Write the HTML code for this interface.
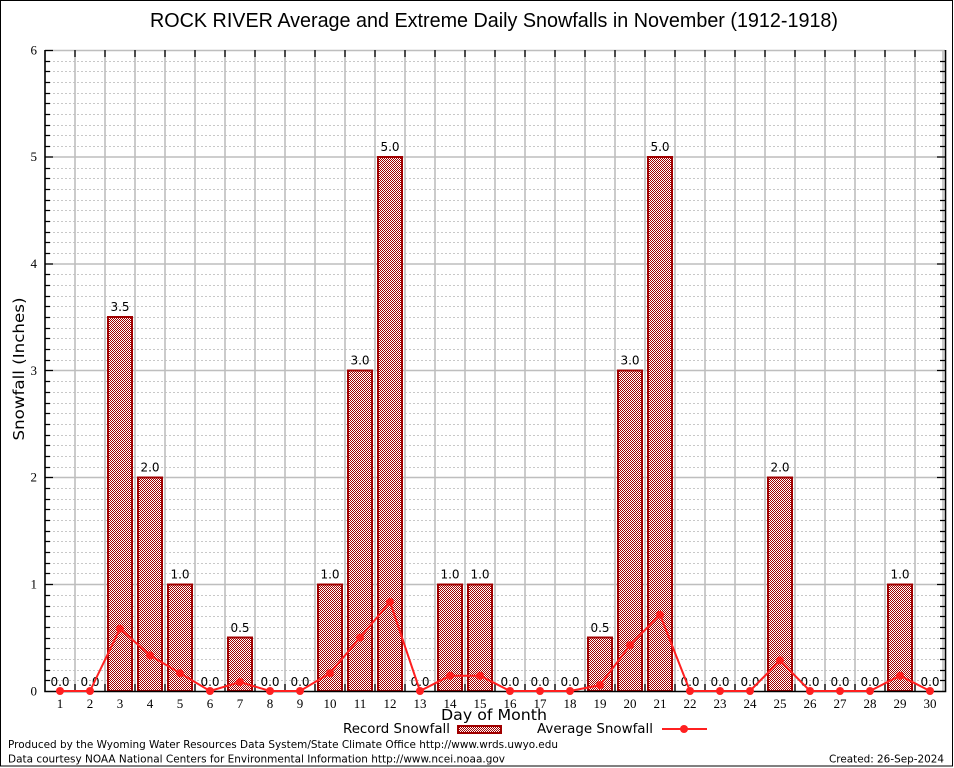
<!DOCTYPE html>
<html>
<head>
<meta charset="utf-8">
<style>
  html,body{margin:0;padding:0;background:#fff;}
  svg{display:block;}
  .sans{font-family:"DejaVu Sans","Liberation Sans",sans-serif;}
  .serif{font-family:"Liberation Serif","DejaVu Serif",serif;}
</style>
</head>
<body>
<svg width="954" height="768" viewBox="0 0 954 768" xmlns="http://www.w3.org/2000/svg">
  <defs>
    <pattern id="chk" x="0" y="0" width="2" height="2" patternUnits="userSpaceOnUse">
      <rect x="0" y="0" width="2" height="2" fill="#ffffff"/>
      <rect x="0" y="0" width="1" height="1" fill="#a00000"/>
      <rect x="1" y="1" width="1" height="1" fill="#a00000"/>
    </pattern>
  </defs>
  <rect x="0" y="0" width="954" height="768" fill="#fff"/>
  <rect x="0.5" y="0.5" width="952" height="765.5" fill="none" stroke="#000" stroke-width="1"/>

  <!-- Title -->
  <text x="494" y="27" text-anchor="middle" style="font-family:'Liberation Sans',sans-serif" font-size="20" textLength="688" lengthAdjust="spacingAndGlyphs" fill="#000">ROCK RIVER Average and Extreme Daily Snowfalls in November (1912-1918)</text>

  <!-- Minor dashed gridlines -->
  <path fill="none" stroke="#c8c8c8" stroke-width="1" stroke-dasharray="2,2" d="
  M45 680.5H945M45 670.5H945M45 659.5H945M45 648.5H945M45 638.5H945M45 627.5H945M45 616.5H945M45 606.5H945M45 595.5H945
  M45 573.5H945M45 563.5H945M45 552.5H945M45 541.5H945M45 531.5H945M45 520.5H945M45 509.5H945M45 499.5H945M45 488.5H945
  M45 467.5H945M45 456.5H945M45 445.5H945M45 435.5H945M45 424.5H945M45 413.5H945M45 403.5H945M45 392.5H945M45 381.5H945
  M45 360.5H945M45 349.5H945M45 338.5H945M45 328.5H945M45 317.5H945M45 306.5H945M45 296.5H945M45 285.5H945M45 274.5H945
  M45 253.5H945M45 242.5H945M45 232.5H945M45 221.5H945M45 210.5H945M45 200.5H945M45 189.5H945M45 178.5H945M45 168.5H945
  M45 146.5H945M45 135.5H945M45 125.5H945M45 114.5H945M45 103.5H945M45 93.5H945M45 82.5H945M45 71.5H945M45 61.5H945"/>

  <!-- Major horizontal gridlines -->
  <path fill="none" stroke="#bebebe" stroke-width="1.6" d="M45 584.5H945M45 477.5H945M45 370.5H945M45 264H945M45 157H945M45 50.5H945"/>

  <!-- Vertical gridlines -->
  <path fill="none" stroke="#bebebe" stroke-width="1.6" d="
  M75 50V691M105 50V691M135 50V691M165 50V691M195 50V691M225 50V691M255 50V691M285 50V691M315 50V691
  M345 50V691M375 50V691M405 50V691M435 50V691M465 50V691M495 50V691M525 50V691M555 50V691M585 50V691
  M615 50V691M645 50V691M675 50V691M705 50V691M735 50V691M765 50V691M795 50V691M825 50V691M855 50V691
  M885 50V691M915 50V691M943 50V691"/>

  <!-- Top & bottom black ticks -->
  <path fill="none" stroke="#000" stroke-width="1.3" d="
  M75 50V57M105 50V57M135 50V57M165 50V57M195 50V57M225 50V57M255 50V57M285 50V57M315 50V57
  M345 50V57M375 50V57M405 50V57M435 50V57M465 50V57M495 50V57M525 50V57M555 50V57M585 50V57
  M615 50V57M645 50V57M675 50V57M705 50V57M735 50V57M765 50V57M795 50V57M825 50V57M855 50V57
  M885 50V57M915 50V57
  M75 691V684M105 691V684M135 691V684M165 691V684M195 691V684M225 691V684M255 691V684M285 691V684M315 691V684
  M345 691V684M375 691V684M405 691V684M435 691V684M465 691V684M495 691V684M525 691V684M555 691V684M585 691V684
  M615 691V684M645 691V684M675 691V684M705 691V684M735 691V684M765 691V684M795 691V684M825 691V684M855 691V684
  M885 691V684M915 691V684"/>

  <!-- Bars -->
  <g fill="url(#chk)" stroke="#a00000" stroke-width="2">
    <rect x="108" y="317" width="24" height="374"/>
    <rect x="138" y="477.5" width="24" height="213.5"/>
    <rect x="168" y="584.5" width="24" height="106.5"/>
    <rect x="228" y="637.5" width="24" height="53.5"/>
    <rect x="318" y="584.5" width="24" height="106.5"/>
    <rect x="348" y="370.5" width="24" height="320.5"/>
    <rect x="378" y="157" width="24" height="534"/>
    <rect x="438" y="584.5" width="24" height="106.5"/>
    <rect x="468" y="584.5" width="24" height="106.5"/>
    <rect x="588" y="637.5" width="24" height="53.5"/>
    <rect x="618" y="370.5" width="24" height="320.5"/>
    <rect x="648" y="157" width="24" height="534"/>
    <rect x="768" y="477.5" width="24" height="213.5"/>
    <rect x="888" y="584.5" width="24" height="106.5"/>
  </g>

  <!-- Value labels -->
  <g class="sans" font-size="12" text-anchor="middle" fill="#000">
    <text x="60" y="686">0.0</text>
    <text x="90" y="686">0.0</text>
    <text x="120" y="311">3.5</text>
    <text x="150" y="471.5">2.0</text>
    <text x="180" y="578.5">1.0</text>
    <text x="210" y="686">0.0</text>
    <text x="240" y="632">0.5</text>
    <text x="270" y="686">0.0</text>
    <text x="300" y="686">0.0</text>
    <text x="330" y="578.5">1.0</text>
    <text x="360" y="364.5">3.0</text>
    <text x="390" y="151">5.0</text>
    <text x="420" y="686">0.0</text>
    <text x="450" y="578.5">1.0</text>
    <text x="480" y="578.5">1.0</text>
    <text x="510" y="686">0.0</text>
    <text x="540" y="686">0.0</text>
    <text x="570" y="686">0.0</text>
    <text x="600" y="632">0.5</text>
    <text x="630" y="364.5">3.0</text>
    <text x="660" y="151">5.0</text>
    <text x="690" y="686">0.0</text>
    <text x="720" y="686">0.0</text>
    <text x="750" y="686">0.0</text>
    <text x="780" y="471.5">2.0</text>
    <text x="810" y="686">0.0</text>
    <text x="840" y="686">0.0</text>
    <text x="870" y="686">0.0</text>
    <text x="900" y="578.5">1.0</text>
    <text x="930" y="686">0.0</text>
  </g>

  <!-- Axes -->
  <path fill="none" stroke="#000" stroke-width="1.6" d="M45 50V691.5H945.5V50"/>
  <path fill="none" stroke="#000" stroke-width="1.3" d="
  M45 584.5h8M45 477.5h8M45 370.5h8M45 264h8M45 157h8M45 50.5h8
  M937 584.5h8M937 477.5h8M937 370.5h8M937 264h8M937 157h8
  M45 680.5h5M45 670.5h5M45 659.5h5M45 648.5h5M45 638.5h5M45 627.5h5M45 616.5h5M45 606.5h5M45 595.5h5
  M45 573.5h5M45 563.5h5M45 552.5h5M45 541.5h5M45 531.5h5M45 520.5h5M45 509.5h5M45 499.5h5M45 488.5h5
  M45 467.5h5M45 456.5h5M45 445.5h5M45 435.5h5M45 424.5h5M45 413.5h5M45 403.5h5M45 392.5h5M45 381.5h5
  M45 360.5h5M45 349.5h5M45 338.5h5M45 328.5h5M45 317.5h5M45 306.5h5M45 296.5h5M45 285.5h5M45 274.5h5
  M45 253.5h5M45 242.5h5M45 232.5h5M45 221.5h5M45 210.5h5M45 200.5h5M45 189.5h5M45 178.5h5M45 168.5h5
  M45 146.5h5M45 135.5h5M45 125.5h5M45 114.5h5M45 103.5h5M45 93.5h5M45 82.5h5M45 71.5h5M45 61.5h5
  M940 680.5h5M940 670.5h5M940 659.5h5M940 648.5h5M940 638.5h5M940 627.5h5M940 616.5h5M940 606.5h5M940 595.5h5
  M940 573.5h5M940 563.5h5M940 552.5h5M940 541.5h5M940 531.5h5M940 520.5h5M940 509.5h5M940 499.5h5M940 488.5h5
  M940 467.5h5M940 456.5h5M940 445.5h5M940 435.5h5M940 424.5h5M940 413.5h5M940 403.5h5M940 392.5h5M940 381.5h5
  M940 360.5h5M940 349.5h5M940 338.5h5M940 328.5h5M940 317.5h5M940 306.5h5M940 296.5h5M940 285.5h5M940 274.5h5
  M940 253.5h5M940 242.5h5M940 232.5h5M940 221.5h5M940 210.5h5M940 200.5h5M940 189.5h5M940 178.5h5M940 168.5h5
  M940 146.5h5M940 135.5h5M940 125.5h5M940 114.5h5M940 103.5h5M940 93.5h5M940 82.5h5M940 71.5h5M940 61.5h5"/>

  <!-- Average line -->
  <polyline fill="none" stroke="#ff2020" stroke-width="2" stroke-linejoin="round" points="60,691 90,691 120,628.7 150,655.4 180,673.2 210,691 240,682.1 270,691 300,691 330,673.2 360,637.6 390,602 420,691 450,675.7 480,675.7 510,691 540,691 570,691 600,685.1 630,645.2 660,614.7 690,691 720,691 750,691 780,660.4 810,691 840,691 870,691 900,675.7 930,691"/>
  <g fill="#ff2020">
    <circle cx="60" cy="691" r="4"/><circle cx="90" cy="691" r="4"/><circle cx="120" cy="628.7" r="4"/>
    <circle cx="150" cy="655.4" r="4"/><circle cx="180" cy="673.2" r="4"/><circle cx="210" cy="691" r="4"/>
    <circle cx="240" cy="682.1" r="4"/><circle cx="270" cy="691" r="4"/><circle cx="300" cy="691" r="4"/>
    <circle cx="330" cy="673.2" r="4"/><circle cx="360" cy="637.6" r="4"/><circle cx="390" cy="602" r="4"/>
    <circle cx="420" cy="691" r="4"/><circle cx="450" cy="675.7" r="4"/><circle cx="480" cy="675.7" r="4"/>
    <circle cx="510" cy="691" r="4"/><circle cx="540" cy="691" r="4"/><circle cx="570" cy="691" r="4"/>
    <circle cx="600" cy="685.1" r="4"/><circle cx="630" cy="645.2" r="4"/><circle cx="660" cy="614.7" r="4"/>
    <circle cx="690" cy="691" r="4"/><circle cx="720" cy="691" r="4"/><circle cx="750" cy="691" r="4"/>
    <circle cx="780" cy="660.4" r="4"/><circle cx="810" cy="691" r="4"/><circle cx="840" cy="691" r="4"/>
    <circle cx="870" cy="691" r="4"/><circle cx="900" cy="675.7" r="4"/><circle cx="930" cy="691" r="4"/>
  </g>

  <!-- Y tick labels -->
  <g class="serif" font-size="13" text-anchor="end" fill="#000">
    <text x="37" y="695.5">0</text>
    <text x="37" y="588.5">1</text>
    <text x="37" y="481.5">2</text>
    <text x="37" y="375">3</text>
    <text x="37" y="268">4</text>
    <text x="37" y="161">5</text>
    <text x="37" y="54.5">6</text>
  </g>

  <!-- X tick labels -->
  <g class="serif" font-size="13" text-anchor="middle" fill="#000">
    <text x="60" y="708">1</text><text x="90" y="708">2</text><text x="120" y="708">3</text>
    <text x="150" y="708">4</text><text x="180" y="708">5</text><text x="210" y="708">6</text>
    <text x="240" y="708">7</text><text x="270" y="708">8</text><text x="300" y="708">9</text>
    <text x="330" y="708">10</text><text x="360" y="708">11</text><text x="390" y="708">12</text>
    <text x="420" y="708">13</text><text x="450" y="708">14</text><text x="480" y="708">15</text>
    <text x="510" y="708">16</text><text x="540" y="708">17</text><text x="570" y="708">18</text>
    <text x="600" y="708">19</text><text x="630" y="708">20</text><text x="660" y="708">21</text>
    <text x="690" y="708">22</text><text x="720" y="708">23</text><text x="750" y="708">24</text>
    <text x="780" y="708">25</text><text x="810" y="708">26</text><text x="840" y="708">27</text>
    <text x="870" y="708">28</text><text x="900" y="708">29</text><text x="930" y="708">30</text>
  </g>

  <!-- Axis titles -->
  <text x="494" y="720" text-anchor="middle" class="sans" font-size="15" textLength="106" lengthAdjust="spacingAndGlyphs" fill="#000">Day of Month</text>
  <text transform="translate(24,369) rotate(-90)" text-anchor="middle" class="sans" font-size="15" textLength="143" lengthAdjust="spacingAndGlyphs" fill="#000">Snowfall (Inches)</text>

  <!-- Legend -->
  <text x="343" y="733" class="sans" font-size="13" textLength="107" lengthAdjust="spacingAndGlyphs" fill="#000">Record Snowfall</text>
  <rect x="458" y="726" width="43" height="7" fill="url(#chk)" stroke="#a00000" stroke-width="2"/>
  <text x="537" y="733" class="sans" font-size="13" textLength="116" lengthAdjust="spacingAndGlyphs" fill="#000">Average Snowfall</text>
  <line x1="662" y1="729" x2="707" y2="729" stroke="#ff2020" stroke-width="2"/>
  <circle cx="684" cy="729" r="4" fill="#ff2020"/>

  <!-- Footer -->
  <text x="8" y="748" class="sans" font-size="11" textLength="550" lengthAdjust="spacingAndGlyphs" fill="#000">Produced by the Wyoming Water Resources Data System/State Climate Office http://www.wrds.uwyo.edu</text>
  <text x="8" y="762.5" class="sans" font-size="11" textLength="497" lengthAdjust="spacingAndGlyphs" fill="#000">Data courtesy NOAA National Centers for Environmental Information http://www.ncei.noaa.gov</text>
  <text x="944" y="762.5" text-anchor="end" class="sans" font-size="11" textLength="115" lengthAdjust="spacingAndGlyphs" fill="#000">Created: 26-Sep-2024</text>
</svg>
</body>
</html>
